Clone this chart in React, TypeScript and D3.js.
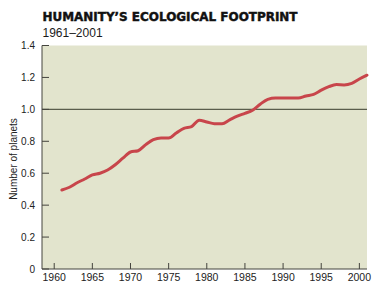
import React from "react";
import * as d3 from "d3";

const years: number[] = d3.range(1961, 2002);
const planets: number[] = [
  0.495, 0.512, 0.54, 0.564, 0.589, 0.6, 0.62, 0.653, 0.694, 0.733,
  0.741, 0.779, 0.81, 0.821, 0.821, 0.852, 0.881, 0.892, 0.932, 0.921,
  0.91, 0.91, 0.934, 0.957, 0.975, 0.994, 1.032, 1.063, 1.071, 1.071,
  1.071, 1.071, 1.084, 1.094, 1.12, 1.142, 1.155, 1.153, 1.163, 1.19,
  1.214,
];
const xTicks: number[] = [1960, 1965, 1970, 1975, 1980, 1985, 1990, 1995, 2000];
const yTicks: number[] = [0, 0.2, 0.4, 0.6, 0.8, 1.0, 1.2, 1.4];
const yTickLabels: string[] = ["0", "0.2", "0.4", "0.6", "0.8", "1.0", "1.2", "1.4"];
const title = "HUMANITY\u2019S ECOLOGICAL FOOTPRINT";
const subtitle = "1961\u20132001";
const yLabel = "Number of planets";

export default function App() {
  const W = 372, H = 283;
  const left = 42, right = 367, top = 45.5, bottom = 269;
  const x = d3.scaleLinear().domain([1958.4, 2001]).range([left, right]);
  const y = d3.scaleLinear().domain([0, 1.4]).range([bottom, top]);
  const data = years.map((yr, i) => [yr, planets[i]] as [number, number]);
  const line = d3
    .line<[number, number]>()
    .x((d) => x(d[0]))
    .y((d) => y(d[1]))
    .curve(d3.curveMonotoneX);
  const axisColor = "#44443e";
  const font = "'Liberation Sans', Arial, Helvetica, sans-serif";
  return (
    <svg
      width={W}
      height={H}
      style={{ position: "absolute", left: 0, top: 0, background: "#fff" }}
      fontFamily={font}
    >
      <text
        x={42.5}
        y={20.5}
        fontFamily="'DejaVu Sans', sans-serif"
        fontWeight={900}
        fontSize={11.5}
        textLength={255}
        lengthAdjust="spacingAndGlyphs"
        fill="#111"
        stroke="#111"
        strokeWidth={0.45}
      >
        {title}
      </text>
      <text x={42.5} y={36.5} fontSize={12} fill="#1a1a1a">
        {subtitle}
      </text>
      <rect x={left} y={top} width={right - left} height={bottom - top} fill="#e2e4cd" />
      <line x1={left} x2={right} y1={y(1)} y2={y(1)} stroke="#5a5d4c" strokeWidth={1.2} />
      <path d={line(data) ?? ""} fill="none" stroke="#c8454b" strokeWidth={3} strokeLinejoin="round" strokeLinecap="round" />
      <line x1={left} x2={left} y1={top} y2={bottom} stroke={axisColor} strokeWidth={1} />
      <line x1={left} x2={right} y1={bottom} y2={bottom} stroke={axisColor} strokeWidth={1} />
      {yTicks.map((t, i) => (
        <g key={"y" + t}>
          <line x1={left} x2={left + 7} y1={y(t)} y2={y(t)} stroke={axisColor} strokeWidth={1} />
          <text x={35} y={y(t)} dy="0.35em" textAnchor="end" fontSize={10} fill="#222">
            {yTickLabels[i]}
          </text>
        </g>
      ))}
      {xTicks.map((t) => (
        <g key={"x" + t}>
          <line x1={x(t)} x2={x(t)} y1={bottom} y2={bottom - 6} stroke={axisColor} strokeWidth={1} />
          <text x={x(t)} y={280.5} textAnchor="middle" fontSize={10.5} fill="#222">
            {t}
          </text>
        </g>
      ))}
      <text
        transform={`translate(17,159) rotate(-90)`}
        textAnchor="middle"
        fontSize={10}
        fill="#222"
      >
        {yLabel}
      </text>
    </svg>
  );
}
